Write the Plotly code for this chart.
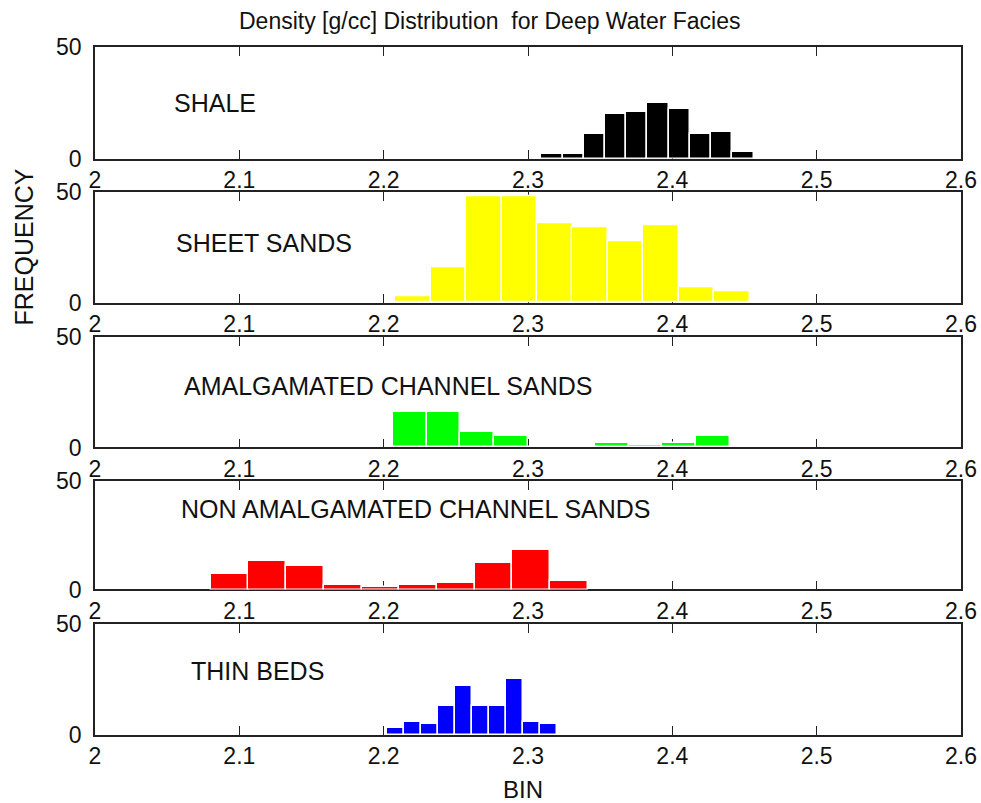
import plotly.graph_objects as go

# ---------------- data ----------------
facies = ["SHALE", "SHEET SANDS", "AMALGAMATED CHANNEL SANDS",
          "NON AMALGAMATED CHANNEL SANDS", "THIN BEDS"]

shale_bins = [2.3166, 2.3313, 2.3460, 2.3607, 2.3754, 2.3901, 2.4048, 2.4195, 2.4342, 2.4489]
shale_counts = [2, 2, 11, 20, 21, 25, 22, 11, 12, 3]
shale_width = 0.01471

sheet_bins = [2.2204, 2.2449, 2.2695, 2.2940, 2.3186, 2.3431, 2.3677, 2.3922, 2.4168, 2.4413]
sheet_counts = [3, 16, 48, 48, 36, 34, 28, 35, 7, 5]
sheet_width = 0.02455

amalg_bins = [2.2182, 2.2415, 2.2648, 2.2881, 2.3115, 2.3348, 2.3581, 2.3815, 2.4048, 2.4281]
amalg_counts = [16, 16, 7, 5, 0, 0, 2, 1, 2, 5]
amalg_width = 0.02333

nonamalg_bins = [2.0933, 2.1194, 2.1455, 2.1716, 2.1977, 2.2238, 2.2499, 2.2760, 2.3021, 2.3282]
nonamalg_counts = [7, 13, 11, 2, 1, 2, 3, 12, 18, 4]
nonamalg_width = 0.02611

thin_bins = [2.2082, 2.2200, 2.2318, 2.2436, 2.2555, 2.2673, 2.2791, 2.2909, 2.3027, 2.3145]
thin_counts = [3, 6, 5, 13, 22, 13, 13, 25, 6, 5]
thin_width = 0.01182

x_ticks = [2.0, 2.1, 2.2, 2.3, 2.4, 2.5, 2.6]
x_ticklabels = ["2", "2.1", "2.2", "2.3", "2.4", "2.5", "2.6"]
y_ticks = [0, 50]
y_ticklabels = ["0", "50"]

# ---------------- styling ----------------
colors = ["#000000", "#ffff00", "#00ff00", "#ff0000", "#0000ff"]
label_x = [2.053, 2.055, 2.060, 2.058, 2.065]
label_y = [25, 27, 28, 37, 29]
domains = [[0.8379, 1.0], [0.6283, 0.7888], [0.4179, 0.5785], [0.2115, 0.3692], [0.0, 0.1613]]

FONT = "Liberation Sans, Arial, sans-serif"

series = [
    (shale_bins, shale_counts, shale_width),
    (sheet_bins, sheet_counts, sheet_width),
    (amalg_bins, amalg_counts, amalg_width),
    (nonamalg_bins, nonamalg_counts, nonamalg_width),
    (thin_bins, thin_counts, thin_width),
]

fig = go.Figure()
annotations = []
layout_axes = {}
for i, (bins, counts, w) in enumerate(series):
    n = i + 1
    xa = "x" if n == 1 else f"x{n}"
    ya = "y" if n == 1 else f"y{n}"
    fig.add_trace(go.Bar(
        x=bins, y=counts, width=w,
        xaxis=xa, yaxis=ya,
        marker=dict(color=colors[i], line=dict(color="#ffffff", width=1.5)),
        showlegend=False, hoverinfo="x+y",
    ))
    layout_axes[f"xaxis{n}"] = dict(
        domain=[0, 1], anchor=ya, range=[2.0, 2.6], automargin=False,
        tickvals=x_ticks, ticktext=x_ticklabels,
        ticks="inside", ticklen=9, tickwidth=1.2, tickcolor="#222",
        showline=True, linecolor="#222", linewidth=1.5, mirror="ticks",
        showgrid=False, zeroline=False, layer="below traces",
        tickfont=dict(family=FONT, size=23, color="#111"),
        ticklabelstandoff=0,
    )
    layout_axes[f"yaxis{n}"] = dict(
        domain=domains[i], anchor=xa, range=[0, 50], automargin=False,
        tickvals=y_ticks, ticktext=y_ticklabels,
        ticks="inside", ticklen=9, tickwidth=1.2, tickcolor="#222",
        showline=True, linecolor="#222", linewidth=1.5, mirror="ticks",
        showgrid=False, zeroline=False, layer="below traces",
        tickfont=dict(family=FONT, size=23, color="#111"),
        ticklabelstandoff=7,
    )
    annotations.append(dict(
        x=label_x[i], y=label_y[i], xref=xa, yref=ya, text=facies[i],
        showarrow=False, xanchor="left", yanchor="middle",
        font=dict(family=FONT, size=25, color="#111"),
    ))

annotations.append(dict(
    x=0.4565, y=1.0, xref="paper", yref="paper", yshift=26,
    text="Density [g/cc] Distribution  for Deep Water Facies",
    showarrow=False, xanchor="center", yanchor="middle",
    font=dict(family=FONT, size=23, color="#111"),
))
annotations.append(dict(
    x=0, y=0.7086, xref="paper", yref="paper", xshift=-71,
    text="FREQUENCY", textangle=-90,
    showarrow=False, xanchor="center", yanchor="middle",
    font=dict(family=FONT, size=25, color="#111"),
))
annotations.append(dict(
    x=0.494, y=0, xref="paper", yref="paper", yshift=-54,
    text="BIN",
    showarrow=False, xanchor="center", yanchor="middle",
    font=dict(family=FONT, size=24, color="#111"),
))

fig.update_layout(
    template="none",
    width=981, height=803,
    margin=dict(l=95, r=20, t=47, b=68, autoexpand=False),
    paper_bgcolor="white", plot_bgcolor="white",
    bargap=0,
    annotations=annotations,
    **layout_axes,
)

# remove the default page margin so the figure fills the window exactly
fig.write_html(
    "out.html",
    config={"displayModeBar": False},
    post_script="document.body.style.margin='0';document.body.style.overflow='hidden';",
)
